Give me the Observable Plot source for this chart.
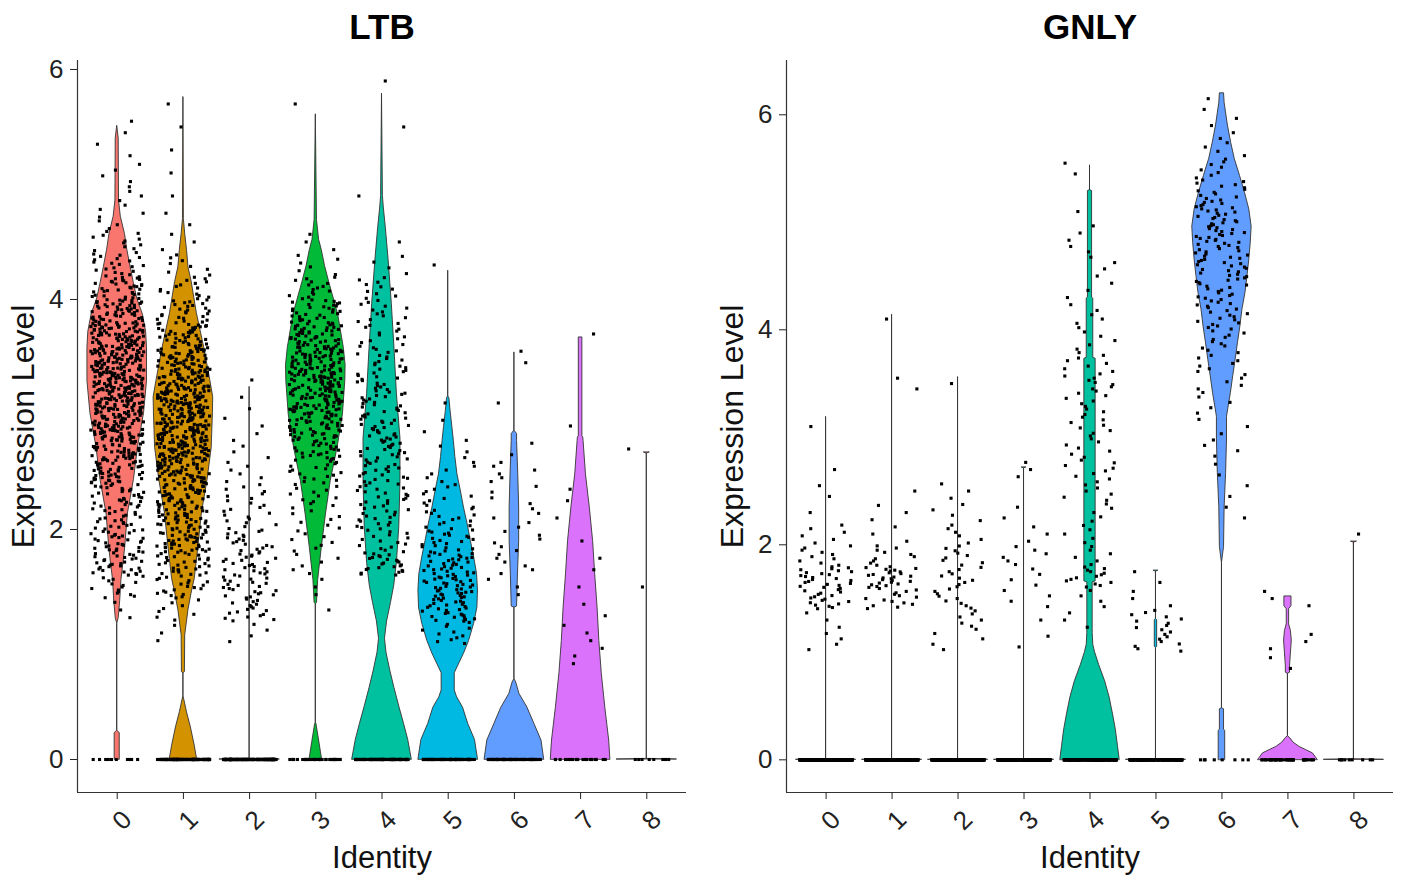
<!DOCTYPE html>
<html>
<head>
<meta charset="utf-8">
<script src="https://cdn.jsdelivr.net/npm/d3@7"></script>
<script src="https://cdn.jsdelivr.net/npm/@observablehq/plot@0.6"></script>
<style>
  html, body { margin: 0; padding: 0; background: #fff; }
  #wrap { display: flex; width: 1401px; height: 878px; }
</style>
</head>
<body>
<div id="wrap"></div>
<script>
// ---------- categories, colours, ticks ----------
const clusters = ["0", "1", "2", "3", "4", "5", "6", "7", "8"];
const clusterColors = ["#F8766D", "#D39200", "#93AA00", "#00BA38", "#00C19F", "#00B9E3", "#619CFF", "#DB72FB", "#FF61C3"];
const yTicks = [0, 2, 4, 6];
const panelTitles = ["LTB", "GNLY"];
const xLabel = "Identity";
const yLabel = "Expression Level";

// histogram bins of non-zero cells: first bin starts at 0.8, each bin 0.2 wide
const binStart = 0.8;
const binWidth = 0.2;

// ---------- LTB ----------
// violin outlines per cluster: [expression level, relative half-width (1 = widest)]
const ltbShapes = [
  [[0,0.085],[0.23,0.085],[0.25,0],[1.18,0],[1.23,0.05],[1.38,0.1],[1.56,0.14],[1.73,0.22],[1.85,0.27],[2.14,0.36],[2.43,0.56],[2.72,0.7],[3.01,0.9],[3.29,1.0],[3.58,1.0],[3.72,0.97],[3.87,0.86],[4.01,0.67],[4.14,0.56],[4.28,0.45],[4.43,0.34],[4.57,0.26],[4.72,0.12],[4.86,0.06],[5.4,0.05],[5.51,0]],
  [[0,0.46],[0.12,0.38],[0.28,0.25],[0.41,0.12],[0.53,0.02],[0.55,0],[0.75,0],[0.76,0.05],[1.08,0.06],[1.3,0.17],[1.44,0.27],[1.57,0.38],[1.84,0.5],[2.14,0.62],[2.43,0.81],[2.71,0.95],[3.01,0.99],[3.15,1.0],[3.3,0.9],[3.58,0.7],[3.88,0.45],[4.15,0.28],[4.28,0.17],[4.43,0.12],[4.57,0.06],[4.7,0.015],[5.76,0]],
  [[0,1],[0.005,0],[3.24,0]],
  [[0,0.21],[0.15,0.12],[0.31,0.02],[0.32,0],[1.35,0],[1.36,0.04],[1.56,0.08],[1.84,0.2],[2.13,0.34],[2.42,0.5],[2.71,0.73],[3.0,0.91],[3.29,0.99],[3.43,1.0],[3.58,0.94],[3.87,0.75],[4.15,0.45],[4.29,0.31],[4.43,0.2],[4.52,0.11],[4.69,0.04],[5.61,0]],
  [[0,1.0],[0.17,0.88],[0.31,0.74],[0.46,0.58],[0.62,0.42],[0.77,0.28],[0.93,0.15],[1.05,0.1],[1.2,0.17],[1.36,0.3],[1.51,0.41],[1.71,0.5],[2.02,0.58],[2.41,0.62],[2.79,0.62],[3.18,0.5],[3.57,0.42],[3.96,0.33],[4.35,0.22],[4.62,0.13],[4.8,0.06],[4.9,0.03],[5.79,0]],
  [[0,1.0],[0.17,0.9],[0.31,0.67],[0.45,0.5],[0.54,0.3],[0.6,0.22],[0.75,0.22],[0.8,0.31],[0.92,0.53],[1.03,0.7],[1.18,0.87],[1.32,0.98],[1.47,1.0],[1.61,0.97],[1.76,0.87],[1.9,0.76],[2.05,0.65],[2.19,0.53],[2.34,0.42],[2.48,0.31],[2.63,0.24],[2.77,0.19],[2.89,0.14],[3.03,0.08],[3.14,0.04],[3.16,0],[4.25,0]],
  [[0,1.0],[0.165,0.91],[0.31,0.67],[0.45,0.44],[0.57,0.17],[0.67,0.06],[0.7,0],[1.32,0],[1.33,0.09],[1.61,0.12],[1.9,0.16],[2.19,0.16],[2.48,0.13],[2.77,0.09],[2.83,0.09],[2.86,0],[3.54,0]],
  [[0,1.0],[0.165,0.96],[0.45,0.83],[0.75,0.71],[1.03,0.63],[1.32,0.57],[1.61,0.49],[1.9,0.42],[2.19,0.31],[2.48,0.18],[2.77,0.1],[2.8,0.09],[2.81,0.06],[3.67,0.06]],
  [[0,1],[0.005,0],[2.66,0],[2.67,0.1]]
];
// non-zero cells per bin (0.8-1.0, 1.0-1.2, ... 6.0-6.2)
const ltbBins = [
  [0,0,3,15,30,30,25,30,45,55,70,80,90,85,70,50,35,20,12,6,5,4,2,2,0,0,0],
  [0,3,8,20,30,45,45,50,60,75,80,80,70,55,40,25,15,8,3,2,1,1,1,1,1,0,0],
  [0,4,18,22,22,18,12,10,6,4,3,2,1,0,0,0,0,0,0,0,0,0,0,0,0,0,0],
  [0,0,1,3,6,8,8,12,18,30,45,60,65,60,45,30,15,6,3,0,0,0,0,0,1,0,0],
  [0,0,0,0,25,15,18,18,20,22,22,20,18,15,12,12,10,4,1,0,1,0,0,1,0,1,0],
  [0,12,30,35,30,22,15,10,6,4,2,1,0,0,0,0,0,1,0,0,0,0,0,0,0,0,0],
  [0,0,0,3,6,6,5,4,6,2,0,1,0,2,0,0,0,0,0,0,0,0,0,0,0,0,0],
  [3,3,2,1,2,1,1,2,0,0,1,0,0,0,1,0,0,0,0,0,0,0,0,0,0,0,0],
  [0,0,0,1,0,0,0,0,0,1,0,0,0,0,0,0,0,0,0,0,0,0,0,0,0,0,0]
];
// cells with zero expression per cluster
const ltbZeros = [10, 150, 220, 40, 110, 90, 80, 20, 8];

// ---------- GNLY ----------
const gnlyShapes = [
  [[0,1],[0.005,0],[3.19,0]],
  [[0,1],[0.005,0],[4.14,0]],
  [[0,1],[0.005,0],[3.56,0]],
  [[0,1],[0.005,0],[2.71,0],[2.72,0.08]],
  [[0,1.0],[0.13,0.94],[0.28,0.87],[0.43,0.77],[0.58,0.66],[0.73,0.51],[0.88,0.31],[1.0,0.17],[1.07,0.11],[1.18,0.09],[1.65,0.09],[1.66,0.19],[3.73,0.19],[3.74,0.11],[4.29,0.11],[4.3,0.07],[5.29,0.07],[5.3,0],[5.53,0]],
  [[0,1],[0.005,0],[1.04,0],[1.05,0.04],[1.3,0.04],[1.31,0],[1.75,0],[1.76,0.08]],
  [[0,0.11],[0.27,0.11],[0.28,0.07],[0.47,0.07],[0.48,0],[1.83,0],[1.98,0.07],[2.35,0.09],[2.67,0.14],[2.98,0.17],[3.19,0.17],[3.26,0.21],[3.41,0.3],[3.57,0.38],[3.72,0.46],[3.88,0.54],[4.03,0.62],[4.19,0.69],[4.34,0.79],[4.5,0.86],[4.65,0.92],[4.81,0.97],[4.96,1.0],[5.12,0.92],[5.27,0.78],[5.43,0.61],[5.59,0.43],[5.74,0.31],[5.9,0.2],[6.11,0.09],[6.2,0.07]],
  [[0,1.0],[0.03,0.92],[0.06,0.84],[0.09,0.62],[0.12,0.39],[0.16,0.19],[0.2,0.08],[0.22,0],[0.8,0],[0.81,0.07],[0.87,0.07],[0.99,0.1],[1.11,0.13],[1.2,0.1],[1.26,0.04],[1.4,0.04],[1.43,0.12],[1.52,0.12]],
  [[0,1],[0.005,0],[2.02,0],[2.03,0.1]]
];
const gnlyBins = [
  [0,4,3,18,22,10,6,1,2,1,0,1,0,0,0,0,0,0,0,0,0,0,0,0,0,0,0],
  [0,0,0,15,25,10,3,3,1,0,0,0,0,2,0,0,1,0,0,0,0,0,0,0,0,0,0],
  [0,4,7,9,10,9,6,4,3,0,0,0,0,1,0,0,0,0,0,0,0,0,0,0,0,0,0],
  [0,2,1,4,4,6,3,2,0,3,0,0,0,0,0,0,0,0,0,0,0,0,0,0,0,0,0],
  [0,0,3,4,14,6,5,5,7,8,7,8,8,10,8,5,5,3,3,4,3,1,0,2,0,0,0],
  [0,9,10,3,2,0,0,0,0,0,0,0,0,0,0,0,0,0,0,0,0,0,0,0,0,0,0],
  [0,0,0,0,0,0,0,2,2,2,4,3,4,6,8,10,14,16,18,20,22,20,14,8,5,3,2],
  [2,3,0,3,0,0,0,0,0,0,0,0,0,0,0,0,0,0,0,0,0,0,0,0,0,0,0],
  [0,0,0,0,0,0,1,0,0,0,0,0,0,0,0,0,0,0,0,0,0,0,0,0,0,0,0]
];
const gnlyZeros = [260, 260, 260, 260, 160, 160, 8, 40, 9];

// ---------- helpers ----------
const FONT = "'Liberation Sans', Arial, Helvetica, sans-serif";

// horizontal jitter only (as geom_jitter, width 0.4): a fixed hash of the cell index
function jitter(g) {
  const s = Math.sin(g * 12.9898 + 78.233) * 43758.5453;
  return s - Math.floor(s);
}

// cells of each bin are placed at evenly spaced levels inside the bin
function cellPoints(bins, zeros, seed) {
  const pts = [];
  let g = seed;
  bins.forEach((row, c) => {
    row.forEach((n, b) => {
      for (let k = 0; k < n; k++, g++) {
        pts.push({x: c + (2 * jitter(g) - 1) * 0.4, y: binStart + binWidth * (b + (k + 0.5) / n)});
      }
    });
    for (let k = 0; k < zeros[c]; k++, g++) {
      pts.push({x: c + (2 * jitter(g) - 1) * 0.4, y: 0});
    }
  });
  return pts;
}

function panel({title, shapes, bins, zeros, seed, yDomain, width, marginLeft, marginRight}) {
  const xDomain = [-0.6, 8.6];
  const tickPos = clusters.map((_, i) => i);
  const marks = [];
  shapes.forEach((prof, c) => {
    const rows = prof.map(([v, w]) => ({v, lo: c - 0.45 * w, hi: c + 0.45 * w}));
    marks.push(Plot.areaX(rows, {
      y: "v", x1: "lo", x2: "hi", curve: "linear",
      fill: clusterColors[c], stroke: "#333", strokeWidth: 0.9, strokeLinejoin: "miter"
    }));
  });
  marks.push(Plot.dot(cellPoints(bins, zeros, seed), {x: "x", y: "y", r: 1.75, symbol: "square", fill: "#000", stroke: null}));
  marks.push(Plot.ruleX([xDomain[0]], {stroke: "#333", strokeWidth: 1.2}));
  marks.push(Plot.ruleY([yDomain[0]], {stroke: "#333", strokeWidth: 1.2}));
  marks.push(Plot.axisY(yTicks, {anchor: "left", tickSize: 7, tickPadding: 7, fontSize: 26, color: "#222", label: null, tickFormat: d => String(d)}));
  marks.push(Plot.axisX(tickPos, {anchor: "bottom", tickSize: 7, tickFormat: () => "", color: "#222", label: null}));
  marks.push(Plot.text(tickPos, {
    x: d => d, y: () => yDomain[0], text: d => clusters[d],
    rotate: -45, dx: 5, dy: 28, fontSize: 26, fill: "#222", textAnchor: "middle", lineAnchor: "middle"
  }));
  marks.push(Plot.text([title], {text: d => d, frameAnchor: "top", dy: -33, fontSize: 35, fontWeight: "bold", fill: "#000", textAnchor: "middle", lineAnchor: "middle"}));
  marks.push(Plot.text([xLabel], {text: d => d, frameAnchor: "bottom", dy: 66, fontSize: 31, fill: "#111", textAnchor: "middle", lineAnchor: "middle"}));
  marks.push(Plot.text([yLabel], {text: d => d, frameAnchor: "left", dx: -54, rotate: -90, fontSize: 32, fill: "#111", textAnchor: "middle", lineAnchor: "middle"}));

  return Plot.plot({
    width, height: 878,
    marginTop: 60, marginBottom: 86, marginLeft, marginRight,
    x: {type: "linear", domain: xDomain, label: null},
    y: {type: "linear", domain: yDomain, label: null},
    style: {fontFamily: FONT, background: "#fff", overflow: "visible"},
    marks
  });
}

const wrap = document.getElementById("wrap");
wrap.append(panel({
  title: panelTitles[0], shapes: ltbShapes, bins: ltbBins, zeros: ltbZeros, seed: 1,
  yDomain: [-0.287, 6.078], width: 700, marginLeft: 77, marginRight: 14
}));
wrap.append(panel({
  title: panelTitles[1], shapes: gnlyShapes, bins: gnlyBins, zeros: gnlyZeros, seed: 5001,
  yDomain: [-0.304, 6.505], width: 701, marginLeft: 86, marginRight: 8
}));
</script>
</body>
</html>
